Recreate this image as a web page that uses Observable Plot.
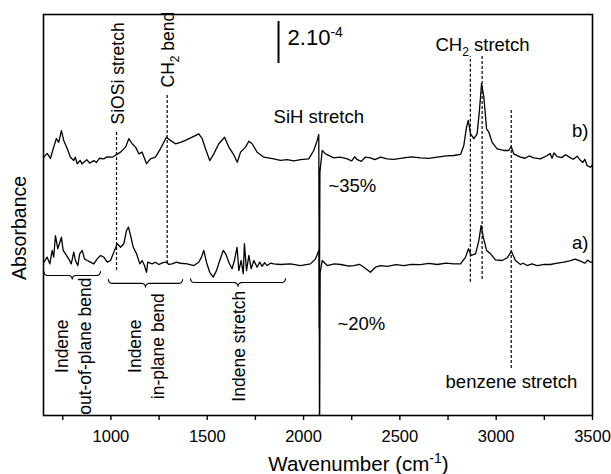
<!DOCTYPE html>
<html><head><meta charset="utf-8">
<script src="https://cdn.jsdelivr.net/npm/d3@7"></script>
<script src="https://cdn.jsdelivr.net/npm/@observablehq/plot@0.6"></script>
<style>body{margin:0;background:#fff}</style>
</head><body><div id="chart"></div>
<script>
// Spectrum b) (upper): [wavenumber, absorbance (1e-4 units, arbitrary offset)]
const spectrumB = [[652,12.30],[669,12.48],[686,12.24],[703,12.78],[717,13.19],[729,13.01],[743,13.57],[755,13.10],[773,12.71],[790,12.30],[807,12.14],[815,12.30],[825,11.99],[840,12.15],[850,11.98],[859,12.06],[875,12.18],[890,12.02],[911,12.14],[925,12.05],[940,12.25],[963,12.22],[980,12.32],[1007,12.30],[1050,12.54],[1076,12.78],[1093,13.18],[1110,12.94],[1128,12.78],[1145,12.46],[1162,12.54],[1185,11.99],[1205,12.22],[1231,12.30],[1257,12.70],[1288,13.25],[1309,13.10],[1335,12.94],[1361,13.01],[1387,13.10],[1430,13.29],[1456,13.41],[1474,13.18],[1491,12.70],[1513,12.14],[1534,12.46],[1560,12.94],[1590,13.25],[1612,12.78],[1635,12.46],[1656,12.06],[1673,12.54],[1699,12.78],[1716,13.06],[1733,12.94],[1759,12.54],[1794,12.30],[1845,12.22],[1880,12.15],[1915,12.18],[1950,12.12],[1984,12.18],[2027,12.22],[2053,12.62],[2071,13.10],[2079,13.38],[2082,4.14],[2085,11.6],[2097,12.62],[2114,12.46],[2157,12.27],[2190,12.30],[2227,12.22],[2250,12.12],[2265,12.32],[2279,12.18],[2300,12.10],[2320,12.30],[2347,12.27],[2370,12.18],[2400,12.30],[2434,12.22],[2470,12.20],[2520,12.27],[2560,12.32],[2607,12.27],[2650,12.24],[2694,12.30],[2740,12.36],[2780,12.38],[2815,12.43],[2832,12.86],[2846,13.73],[2855,14.05],[2867,13.41],[2884,13.18],[2901,13.41],[2913,14.52],[2924,15.80],[2936,15.16],[2950,13.65],[2962,13.49],[2979,13.01],[3005,12.70],[3039,12.62],[3065,12.62],[3078,12.81],[3091,12.46],[3126,12.30],[3150,12.25],[3170,12.36],[3195,12.27],[3230,12.22],[3265,12.38],[3280,12.48],[3290,12.25],[3300,12.50],[3317,12.33],[3340,12.28],[3360,12.42],[3386,12.27],[3400,12.20],[3420,12.35],[3438,12.14],[3450,12.05],[3460,12.20],[3472,11.90],[3489,11.82],[3500,11.95]];
// Spectrum a) (lower)
const spectrumA = [[652,7.30],[669,7.54],[683,7.22],[695,7.86],[703,7.54],[712,8.57],[724,7.94],[735,8.25],[743,8.49],[752,7.86],[764,7.70],[781,7.46],[794,7.22],[807,7.78],[816,7.38],[828,7.14],[838,7.70],[851,7.86],[863,7.46],[877,7.38],[894,7.30],[911,7.22],[929,7.46],[946,7.62],[963,7.54],[981,7.30],[998,7.38],[1015,7.78],[1033,8.18],[1050,8.01],[1067,8.18],[1081,8.81],[1091,8.97],[1102,8.57],[1116,8.01],[1133,7.70],[1150,7.22],[1162,7.38],[1174,7.14],[1185,6.82],[1191,7.30],[1214,7.22],[1230,7.30],[1249,7.19],[1270,7.28],[1288,7.30],[1300,7.20],[1318,7.22],[1340,7.30],[1361,7.25],[1396,7.22],[1430,7.14],[1456,7.30],[1470,7.54],[1482,7.86],[1496,7.30],[1513,6.82],[1531,6.59],[1548,6.90],[1565,7.38],[1583,7.86],[1596,7.70],[1612,7.30],[1629,6.99],[1641,7.38],[1655,8.01],[1664,6.90],[1676,7.38],[1687,6.75],[1693,8.18],[1704,6.90],[1716,7.62],[1728,6.99],[1742,7.38],[1759,7.06],[1772,7.30],[1785,7.10],[1798,7.28],[1811,7.14],[1830,7.26],[1845,7.22],[1880,7.19],[1932,7.22],[1984,7.14],[2036,7.22],[2062,7.46],[2076,7.78],[2081,7.9],[2083,-2],[2086,6.8],[2097,7.38],[2123,7.14],[2160,7.22],[2192,7.19],[2230,7.12],[2261,7.14],[2290,7.20],[2313,7.06],[2347,6.82],[2373,7.06],[2400,7.14],[2434,7.10],[2480,7.18],[2520,7.14],[2560,7.20],[2607,7.18],[2650,7.24],[2694,7.19],[2740,7.26],[2780,7.22],[2815,7.22],[2841,7.54],[2856,7.94],[2870,7.62],[2893,7.70],[2910,8.33],[2922,9.05],[2933,8.49],[2950,7.86],[2971,7.70],[2996,7.41],[3031,7.38],[3057,7.51],[3079,7.82],[3100,7.38],[3126,7.19],[3140,7.25],[3161,7.14],[3185,7.22],[3213,7.14],[3250,7.20],[3282,7.19],[3310,7.24],[3351,7.30],[3386,7.38],[3410,7.45],[3438,7.35],[3460,7.25],[3475,7.40],[3489,7.30],[3500,7.30]];

const majorTicks = [1000,1500,2000,2500,3000,3500];
const minorTicks = [750,1250,1750,2250,2750,3250];

// band assignments (dashed markers): wavenumber, top, bottom
const markerWav = [1029,1292,2866,2927,3078];
const markerTop = [13.57,15.24,17.10,17.10,14.62];
const markerBot = [6.90,7.24,6.35,6.48,2.24];

// indene band ranges (braces)
const braceFrom = [652,987,1413];
const braceTo = [946,1372,1906];
const braceLevel = [6.67,6.29,6.33];
const braceLabels = ["Indene\nout-of-plane bend","Indene\nin-plane bend","Indene stretch"];

const specB = spectrumB.map(([w,a])=>({w, a}));
const specA = spectrumA.map(([w,a])=>({w, a}));
const markers = markerWav.map((w,i)=>({w, y1:markerBot[i], y2:markerTop[i]}));

// brace geometry
const rx = 20, ry = 0.18;
function bracePts(x1,x2,y0,id){
  const pts=[]; const xm=(x1+x2)/2;
  const arc=(cx,cy,t0,t1)=>{for(let k=0;k<=8;k++){const t=(t0+(t1-t0)*k/8)*Math.PI/180;pts.push({w:cx+rx*Math.cos(t),a:cy+ry*Math.sin(t),id});}};
  arc(x1+rx,y0+ry,180,270);
  arc(xm-rx,y0-ry,90,0);
  arc(xm+rx,y0-ry,180,90);
  arc(x2-rx,y0+ry,270,360);
  return pts;
}
const braces = braceFrom.flatMap((x1,i)=>bracePts(x1,braceTo[i],braceLevel[i],i));
const braceText = braceFrom.map((x1,i)=>({w:(x1+braceTo[i])/2, t:braceLabels[i]}));

const F = '"Liberation Sans", Arial, Helvetica, sans-serif';
const FS = 18.5;
const chart = Plot.plot({
  width:611, height:474, marginLeft:43, marginRight:19, marginTop:14, marginBottom:59,
  style:{fontFamily:F, fontSize:"16px", color:"#000", background:"#fff", overflow:"visible"},
  x:{domain:[650,3500]},
  y:{domain:[0,19.095], axis:null},
  marks:[
    Plot.axisX({ticks:majorTicks, tickSize:5, tickPadding:10, fontSize:16.5, label:null, strokeWidth:1.4, tickFormat:d=>String(d)}),
    Plot.axisX({ticks:minorTicks, tickSize:5, label:null, strokeWidth:1.4, tickFormat:()=>""}),
    Plot.ruleX(markers, {x:"w", y1:"y1", y2:"y2", stroke:"#000", strokeWidth:1.2, strokeDasharray:"3,2"}),
    Plot.line(specB, {x:"w", y:"a", stroke:"#000", strokeWidth:1.3, clip:true}),
    Plot.line(specA, {x:"w", y:"a", stroke:"#000", strokeWidth:1.3, clip:true}),
    Plot.line(braces, {x:"w", y:"a", z:"id", stroke:"#000", strokeWidth:1.1}),
    Plot.text(braceText, {x:"w", y:3.3, text:"t", rotate:-90, textAnchor:"middle", lineAnchor:"middle", lineHeight:1.3, fontSize:17.5}),
    // scale bar
    Plot.ruleX([1870], {y1:16.76, y2:18.76, stroke:"#000", strokeWidth:2}),
    Plot.text(["2.10-4"], {x:1917, y:17.62, text:d=>d, textAnchor:"start", lineAnchor:"bottom", fontSize:22}),
    Plot.text(["SiOSi stretch"], {x:1037, y:13.86, text:d=>d, rotate:-90, textAnchor:"start", lineAnchor:"middle", fontSize:17.5}),
    Plot.text(["CH2 bend"], {x:1296, y:15.62, text:d=>d, rotate:-90, textAnchor:"start", lineAnchor:"middle", fontSize:17.5}),
    Plot.text(["SiH stretch"], {x:2079, y:13.95, text:d=>d, textAnchor:"middle", lineAnchor:"bottom", fontSize:FS}),
    Plot.text(["CH2 stretch"], {x:2929, y:17.38, text:d=>d, textAnchor:"middle", lineAnchor:"bottom", fontSize:FS}),
    Plot.text(["b)"], {x:3479, y:13.24, text:d=>d, textAnchor:"end", lineAnchor:"bottom", fontSize:FS}),
    Plot.text(["a)"], {x:3479, y:7.95, text:d=>d, textAnchor:"end", lineAnchor:"bottom", fontSize:FS}),
    Plot.text(["~35%"], {x:2129, y:10.62, text:d=>d, textAnchor:"start", lineAnchor:"bottom", fontSize:FS}),
    Plot.text(["~20%"], {x:2176, y:4.05, text:d=>d, textAnchor:"start", lineAnchor:"bottom", fontSize:FS}),
    Plot.text(["benzene stretch"], {x:3079, y:1.29, text:d=>d, textAnchor:"middle", lineAnchor:"bottom", fontSize:FS}),
    Plot.text(["Absorbance"], {frameAnchor:"left", y:8.93, dx:-24, text:d=>d, rotate:-90, textAnchor:"middle", lineAnchor:"middle", fontSize:19.5}),
    Plot.text(["Wavenumber (cm-1)"], {x:2285, frameAnchor:"bottom", dy:55, text:d=>d, textAnchor:"middle", lineAnchor:"bottom", fontSize:20.5}),
    Plot.frame({stroke:"#000", strokeWidth:1.6})
  ]
});

// sub/superscripts as tspans
const rich = {
  "CH2 stretch":[["CH",0],["2",1],[" stretch",-1]],
  "CH2 bend":[["CH",0],["2",1],[" bend",-1]],
  "2.10-4":[["2.10",0],["-4",2]],
  "Wavenumber (cm-1)":[["Wavenumber (cm",0],["-1",2],[")",-2]]
};
chart.querySelectorAll("text").forEach(t=>{
  const parts = rich[t.textContent];
  if(!parts || t.querySelector("tspan")) return;
  t.textContent="";
  for(const [s,k] of parts){
    const ts=document.createElementNS("http://www.w3.org/2000/svg","tspan");
    ts.textContent=s;
    if(k===1){ts.setAttribute("dy","5");ts.setAttribute("font-size","12");}
    else if(k===-1){ts.setAttribute("dy","-5");}
    else if(k===2){ts.setAttribute("dy","-8");ts.setAttribute("font-size","14");}
    else if(k===-2){ts.setAttribute("dy","8");}
    t.appendChild(ts);
  }
});
document.getElementById("chart").appendChild(chart);
</script>
</body></html>
